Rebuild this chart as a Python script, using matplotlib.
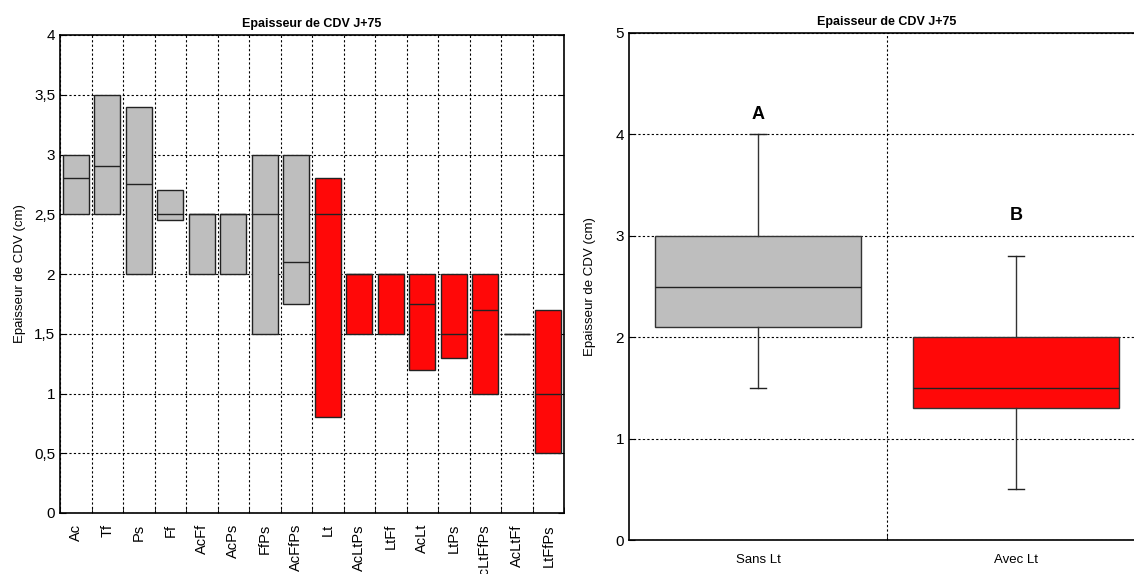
import numpy as np
import matplotlib.pyplot as plt

plt.rcParams['font.family'] = ['Liberation Sans', 'DejaVu Sans']

# left panel: box per treatment (q1, median, q3)
traitements = ['Ac', 'Tf', 'Ps', 'Ff', 'AcFf', 'AcPs', 'FfPs', 'AcFfPs', 'Lt',
               'AcLtPs', 'LtFf', 'AcLt', 'LtPs', 'AcLtFfPs', 'AcLtFf', 'LtFfPs']
q1 = [2.5, 2.5, 2.0, 2.45, 2.0, 2.0, 1.5, 1.75, 0.8, 1.5, 1.5, 1.2, 1.3, 1.0, 1.5, 0.5]
mediane = [2.8, 2.9, 2.75, 2.5, 2.5, 2.5, 2.5, 2.1, 2.5, 2.0, 2.0, 1.75, 1.5, 1.7, 1.5, 1.0]
q3 = [3.0, 3.5, 3.4, 2.7, 2.5, 2.5, 3.0, 3.0, 2.8, 2.0, 2.0, 2.0, 2.0, 2.0, 1.5, 1.7]
avec_lt = [False] * 8 + [True] * 8
y_ticks_left = [0, 0.5, 1, 1.5, 2, 2.5, 3, 3.5, 4]
y_labels_left = ['0', '0,5', '1', '1,5', '2', '2,5', '3', '3,5', '4']

# right panel: grouped boxplots
groupes = ['Sans Lt', 'Avec Lt']
g_whislo = [1.5, 0.5]
g_q1 = [2.1, 1.3]
g_med = [2.5, 1.5]
g_q3 = [3.0, 2.0]
g_whishi = [4.0, 2.8]
lettres = ['A', 'B']
lettres_y = [4.2, 3.2]

gris = '#bebebe'
rouge = '#ff0808'
titre = 'Epaisseur de CDV J+75'
ylab = 'Epaisseur de CDV (cm)'
grid_kw = dict(color='black', linestyle=(0, (2, 2)), linewidth=0.8)

fig = plt.figure(figsize=(11.34, 5.74), dpi=100)

# ---- left ----
ax1 = fig.add_axes([60 / 1134, 61 / 574, 504 / 1134, 478 / 574])
x = np.arange(len(traitements))
couleurs = [rouge if a else gris for a in avec_lt]
haut = np.array(q3) - np.array(q1)
ax1.bar(x, haut, bottom=q1, width=0.82, color=couleurs, edgecolor='#222222',
        linewidth=1.0, zorder=3)
ax1.hlines(mediane, x - 0.41, x + 0.41, color='#222222', linewidth=1.0, zorder=4)
ax1.set_xlim(-0.5, len(traitements) - 0.5)
ax1.set_ylim(0, 4)
ax1.set_xticks(x)
ax1.set_xticklabels(traitements, rotation=90, fontsize=10.5)
ax1.set_xticks(np.arange(len(traitements) + 1) - 0.5, minor=True)
ax1.set_yticks(y_ticks_left)
ax1.set_yticklabels(y_labels_left, fontsize=11)
ax1.tick_params(axis='x', which='major', length=0, pad=8)
ax1.tick_params(axis='x', which='minor', length=4, direction='in')
ax1.tick_params(axis='y', length=4, direction='in', right=True)
ax1.grid(True, axis='x', which='minor', **grid_kw)
ax1.grid(True, axis='y', which='major', **grid_kw)
ax1.set_axisbelow(True)
ax1.set_title(titre, fontsize=9, fontweight='bold', pad=6)
ax1.set_ylabel(ylab, fontsize=9.5, labelpad=6)
for s in ax1.spines.values():
    s.set_linewidth(1.2)

# ---- right ----
ax2 = fig.add_axes([629 / 1134, 34 / 574, 516 / 1134, 507 / 574])
stats = []
for i in range(len(groupes)):
    stats.append({'label': groupes[i], 'whislo': g_whislo[i], 'q1': g_q1[i],
                  'med': g_med[i], 'q3': g_q3[i], 'whishi': g_whishi[i]})
bp = ax2.bxp(stats, positions=[0, 1], widths=0.8, patch_artist=True,
             showfliers=False, capwidths=0.06,
             boxprops=dict(edgecolor='#333333', linewidth=1.0),
             medianprops=dict(color='#222222', linewidth=1.0),
             whiskerprops=dict(color='#333333', linewidth=1.0),
             capprops=dict(color='#222222', linewidth=1.0))
for patch, c in zip(bp['boxes'], [gris, rouge]):
    patch.set_facecolor(c)
    patch.set_zorder(3)
for key in ['medians', 'whiskers', 'caps']:
    for ln in bp[key]:
        ln.set_zorder(4)
for i in range(len(groupes)):
    ax2.text(i, lettres_y[i], lettres[i], ha='center', va='center',
             fontsize=13, fontweight='bold')
ax2.set_xlim(-0.5, 1.5)
ax2.set_ylim(0, 5)
ax2.set_xticks([0, 1])
ax2.set_xticklabels(groupes, fontsize=9.5)
ax2.set_xticks([0.5], minor=True)
ax2.set_yticks([0, 1, 2, 3, 4, 5])
ax2.tick_params(axis='y', labelsize=11, length=4, direction='in')
ax2.tick_params(axis='x', which='major', length=0, pad=10)
ax2.tick_params(axis='x', which='minor', length=4, direction='in')
ax2.grid(True, axis='x', which='minor', **grid_kw)
ax2.grid(True, axis='y', which='major', **grid_kw)
ax2.set_axisbelow(True)
ax2.set_title(titre, fontsize=9, fontweight='bold', pad=6)
ax2.set_ylabel(ylab, fontsize=9.5, labelpad=14)
for s in ax2.spines.values():
    s.set_linewidth(1.2)

fig.savefig('out.png', dpi=100)
